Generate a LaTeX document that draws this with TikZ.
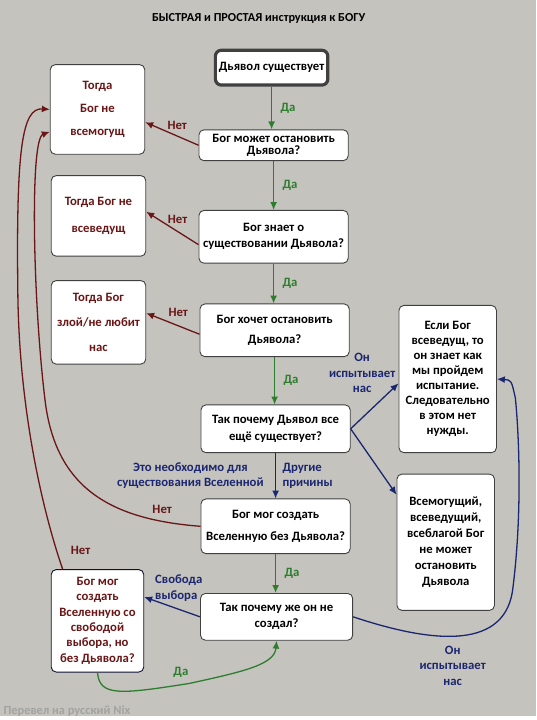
\documentclass[tikz,border=0pt]{standalone}
\usepackage{fontspec}
\setmainfont{Carlito}
\usetikzlibrary{arrows.meta}
\definecolor{BgGray}{HTML}{C4C3BD}
\definecolor{NoRed}{HTML}{6A1616}
\definecolor{YesGreen}{HTML}{2E7D2E}
\definecolor{OtherBlue}{HTML}{1B2670}
\definecolor{NixGray}{HTML}{A2A2A0}

\begin{document}
\begin{tikzpicture}[
    x=1pt, y=-1pt,
    >={Latex[length=8pt,width=7pt]},
    sp/.style={font=\bfseries\fontsize{12.8}{#1}\selectfont},
    box/.style={draw=black!75, fill=white, rounded corners=5pt, line width=0.9pt, align=center, inner sep=1pt, sp=15},
    startbox/.style={box, line width=3.2pt, rounded corners=6pt, minimum width=113pt, minimum height=35pt},
    mainbox/.style={box, minimum width=150pt},
    sidebox/.style={box, minimum width=95pt, text=NoRed},
    rightbox/.style={box, minimum width=98pt},
    yesarrow/.style={->, YesGreen, line width=1.3pt},
    noarrow/.style={->, NoRed, line width=1.3pt},
    blarrow/.style={->, OtherBlue, line width=1.3pt},
    yeslbl/.style={text=YesGreen, sp=14},
    nolbl/.style={text=NoRed, sp=14},
    bllbl/.style={text=OtherBlue, align=center, sp=15.5}
 ]
\fill[BgGray] (0,0) rectangle (539,720);

\node[font=\bfseries\fontsize{12.3}{14}\selectfont] (title) at (260,19) {БЫСТРАЯ и ПРОСТАЯ инструкция к БОГУ};

% middle column
\node[startbox, sp=15] (exists) at (273,68) {Дьявол существует};
\node[mainbox, minimum height=31pt, sp=12.5] (canstop) at (275,146) {Бог может остановить\\Дьявола?};
\node[mainbox, minimum height=53pt, sp=16] (knows) at (275,238) {Бог знает о\\существовании Дьявола?};
\node[mainbox, minimum height=53pt, sp=21] (wants) at (276,332) {Бог хочет остановить\\Дьявола?};
\node[mainbox, minimum height=48pt, sp=17] (why) at (277,431) {Так почему Дьявол все\\ещё существует?};
\node[mainbox, minimum height=55pt, sp=22] (possible) at (277,529) {Бог мог создать\\Вселенную без Дьявола?};
\node[mainbox, minimum height=47pt, sp=16, minimum width=153pt] (whynot) at (278,620) {Так почему же он не\\создал?};

% left column
\node[sidebox, minimum height=90pt, sp=23] (notomni) at (98,110) {Тогда\\Бог не\\всемогущ};
\node[sidebox, minimum height=81pt, sp=28] (notsci) at (99,217) {Тогда Бог не\\всеведущ};
\node[sidebox, minimum height=84pt, sp=25] (evil) at (99,324) {Тогда Бог\\злой/не любит\\нас};
\node[sidebox, minimum height=103pt, sp=15.4, draw=OtherBlue!45!black, minimum width=93pt] (freebox) at (98,624) {Бог мог\\создать\\Вселенную со\\свободой\\выбора, но\\без Дьявола?};

% right column
\node[rightbox, minimum height=148pt, sp=15] (test) at (450,381) {Если Бог\\всеведущ, то\\он знает как\\мы пройдем\\испытание.\\Следовательно\\в этом нет\\нужды.};
\node[rightbox, minimum height=137pt, sp=16] (cannot) at (448,545) {Всемогущий,\\всеведущий,\\всеблагой Бог\\не может\\остановить\\Дьявола};

% yes
\draw[yesarrow] (exists.south) -- node[yeslbl, right=5pt] {Да} (exists.south |- canstop.north);
\draw[yesarrow] (canstop.south) -- node[yeslbl, right=5pt] {Да} (canstop.south |- knows.north);
\draw[yesarrow] (knows.south) -- node[yeslbl, right=5pt] {Да} (knows.south |- wants.north);
\draw[yesarrow] (wants.south) -- node[yeslbl, right=5pt] {Да} (wants.south |- why.north);
\draw[yesarrow] (possible.south) -- node[yeslbl, right=5pt] {Да} (possible.south |- whynot.north);
\draw[yesarrow] (freebox.south) .. controls (100,700) and (120,698) .. (190,687)
    node[yeslbl, pos=0.96, above=3pt] {Да}
    .. controls (245,675) and (276,668) .. (whynot.south);

% no
\draw[noarrow] (canstop.west) -- node[nolbl, pos=0.4, above=3pt] {Нет} (notomni.-15);
\draw[noarrow] (knows.-174) -- node[nolbl, pos=0.4, above=4pt] {Нет} (notsci.5);
\draw[noarrow] (wants.183) -- node[nolbl, pos=0.4, above=5pt] {Нет} (evil.11);
\draw[noarrow] (possible.west) .. controls (110,522) and (55,490) .. (45,400)
    .. controls (33,300) and (30,140) .. (notomni.205);
\node[nolbl] (nolow) at (163,512) {Нет};
\draw[noarrow] (freebox.124) .. controls (45,520) and (20,420) .. (18,300)
    .. controls (16,150) and (22,108) .. (notomni.west);
\node[nolbl] (noout) at (81,553) {Нет};

% other
\draw[blarrow] (why.south) -- node[bllbl, left=8pt] {Это необходимо для\\существования Вселенной}
    node[bllbl, right=3pt, align=left] {Другие\\причины} (possible.north);
\draw[blarrow] (why.east) -- (test.185);
\node[bllbl] (testup) at (364,375) {Он\\испытывает\\нас};
\draw[blarrow] (why.east) -- (cannot.136);
\draw[blarrow] (whynot.west) -- node[bllbl, pos=0.38, above=4pt, align=left] {Свобода\\выбора} (freebox.27);
\draw[blarrow] (whynot.east) .. controls (430,645) and (505,655) .. (515,595)
    .. controls (525,520) and (522,440) .. (518,400) .. controls (514,382) .. (test.east);
\node[bllbl] (testdown) at (455,669) {Он\\испытывает\\нас};

\node[anchor=west, text=NixGray, font=\bfseries\fontsize{12.5}{14}\selectfont] (nix) at (0,715) {Перевел на русский Nix};
\end{tikzpicture}
\end{document}
